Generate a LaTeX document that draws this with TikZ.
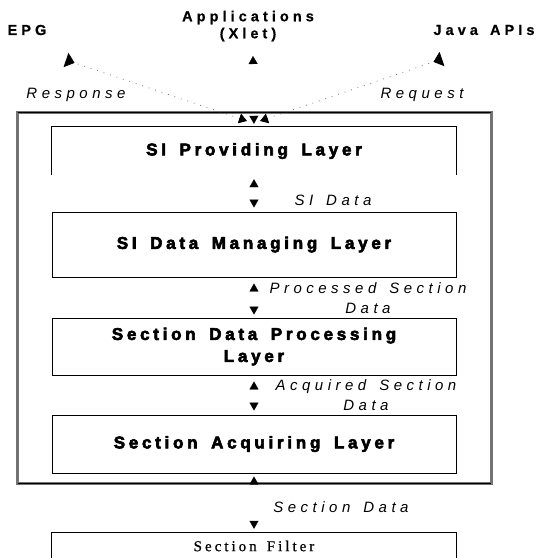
\documentclass[tikz,border=0pt]{standalone}
\usepackage{fontspec}
\usetikzlibrary{arrows.meta}
\setmainfont{Liberation Sans}
\newfontfamily\layerfont[LetterSpace=22,WordSpace=1.6,BoldFeatures={FakeBold=3.5}]{Liberation Sans}
\newfontfamily\lblfont[LetterSpace=30,WordSpace=1.5]{Liberation Sans}
\newfontfamily\topfont[LetterSpace=28,WordSpace=1.5,BoldFeatures={FakeBold=0.6}]{Liberation Sans}
\newfontfamily\filtfont[LetterSpace=20,WordSpace=1.5,FakeBold=0.8]{Liberation Serif}
\begin{document}
\begin{tikzpicture}[x=1pt,y=-1pt,
  layer/.style={minimum width=404pt, inner sep=0pt, align=center,
    font=\layerfont\bfseries\fontsize{17}{22}\selectfont},
  boxline/.style={line width=0.9pt},
  lbl/.style={inner sep=0pt, align=center, font=\lblfont\itshape\fontsize{15}{20}\selectfont},
  toplbl/.style={inner sep=0pt, align=center, font=\topfont\bfseries\fontsize{14.5}{17}\selectfont},
  link/.style={dash pattern=on 0pt off 2000pt,
    arrows={Triangle[width=9pt,length=8pt]-Triangle[width=9pt,length=8pt]}},
  dotlink/.style={black!55, line width=0.8pt, dash pattern=on 0.8pt off 6pt,
    arrows={Triangle[width=10pt,length=8pt,color=black]-Triangle[reversed,width=15pt,length=9pt,color=black]}}
]
\useasboundingbox (0,0) rectangle (554,558);

% outer frame
\node[minimum width=473pt, minimum height=370pt, inner sep=0pt] (frame) at (254.5,298) {};
\draw[black!55, line width=3.2pt] (frame.north west) rectangle (frame.south east);
\draw[line width=1.1pt] (frame.north west) -- (frame.north east);
\draw[line width=1.1pt] (frame.south west) -- (frame.south east);

% layer boxes
\node[layer, minimum height=48pt] (sip) at (254,151) {SI Providing Layer};
\draw[boxline] (sip.south west) -- (sip.north west) -- (sip.north east) -- (sip.south east);
\node[layer, minimum height=65pt, draw, boxline] (sidm) at (254,244.5) {SI Data Managing Layer};
\node[layer, minimum height=57pt, draw, boxline] (sdp) at (254,346.5) {Section Data Processing\\Layer};
\node[layer, minimum height=58pt, draw, boxline] (sal) at (254,444) {Section Acquiring Layer};
\node[minimum width=404pt, minimum height=26pt, inner sep=0pt,
  font=\filtfont\fontsize{15}{17}\selectfont] (sf) at (254,546) {Section Filter};
\draw[boxline] (sf.south west) -- (sf.north west) -- (sf.north east) -- (sf.south east);

% top labels
\node[toplbl] (epg) at (27,30) {EPG};
\node[toplbl] (app) at (248,26) {Applications\\(Xlet)};
\node[toplbl] (java) at (484,30) {Java APIs};
\coordinate (epgA) at (66,60);
\coordinate (javaA) at (442,59);
\coordinate (appA) at (253,56);
\coordinate (convL) at (247,121);
\coordinate (convR) at (260,121);

% connectors
\draw[dotlink] (convL) -- (epgA);
\draw[dotlink] (convR) -- (javaA);
\draw[link, shorten >=3pt] (appA) -- (sip.north);
\draw[link, shorten <=4pt, shorten >=4pt] (sip.south) -- (sidm.north);
\draw[link, shorten <=6pt, shorten >=3pt] (sidm.south) -- (sdp.north);
\draw[link, shorten <=6pt, shorten >=4pt] (sdp.south) -- (sal.north);
\draw[link, shorten <=3pt, shorten >=4pt] (sal.south) -- (sf.north);

% connector labels
\node[lbl] (lresp) at (76,95) {Response};
\node[lbl] (lreq) at (422,95) {Request};
\node[lbl] (lsi) at (333,200) {SI Data};
\node[lbl] (lproc) at (368,298) {Processed Section\\Data};
\node[lbl] (lacq) at (366,395) {Acquired Section\\Data};
\node[lbl] (lsec) at (341,507) {Section Data};
\end{tikzpicture}
\end{document}
